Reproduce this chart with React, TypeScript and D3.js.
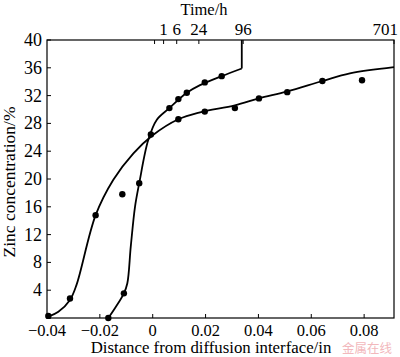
import React from "react";
import * as d3 from "d3";

const W = 400, H = 357;
const M = { left: 47, right: 394, top: 40, bottom: 318 };

const xTicks = [-0.04, -0.02, 0, 0.02, 0.04, 0.06, 0.08];
const yTicks = [0, 4, 8, 12, 16, 20, 24, 28, 32, 36, 40];
const timeTicks = [0, 1, 6, 24, 96, 701];
const timeLabels = ["", "1", "6", "24", "96", "701"];

// 96 h curve (steep)
const curve96: [number, number][] = [
  [-0.0168, 0], [-0.0143, 1.4], [-0.0109, 3.55], [-0.0096, 5], [-0.0083, 10.3],
  [-0.0067, 16], [-0.0051, 19.4], [-0.0017, 25.6], [0.0015, 28.5], [0.0063, 30.2],
  [0.0129, 32.4], [0.0179, 33.5], [0.0261, 34.8], [0.0337, 35.9],
];
const step96: [number, number][] = [[0.0337, 35.9], [0.0337, 40]];

// 701 h curve (broad)
const curve701: [number, number][] = [
  [-0.0395, 0.2], [-0.0357, 0.9], [-0.0313, 2.6], [-0.0288, 4.8], [-0.0216, 14.8],
  [-0.0149, 19.9], [-0.0073, 23.7], [0, 26.3], [0.0097, 28.6], [0.0179, 29.6],
  [0.0311, 30.6], [0.0402, 31.6], [0.0509, 32.6], [0.0642, 34.1], [0.0746, 35.2],
  [0.0913, 36.1],
];

const pts96: [number, number][] = [
  [-0.0168, 0], [-0.0109, 3.55], [-0.0115, 17.8], [-0.0051, 19.4], [-0.0007, 26.4],
  [0.0063, 30.2], [0.0097, 31.5], [0.0129, 32.4], [0.0197, 33.9], [0.0261, 34.8],
];
const pts701: [number, number][] = [
  [-0.0395, 0.3], [-0.0313, 2.8], [-0.0216, 14.8], [0.0097, 28.6], [0.0197, 29.7],
  [0.0311, 30.2], [0.0402, 31.6], [0.0509, 32.5], [0.0642, 34.1], [0.0792, 34.2],
];

const serif = { fontFamily: "'Liberation Serif'" };

export default function App() {
  const x = d3.scaleLinear().domain([-0.04, 0.0913]).range([M.left, M.right]);
  const y = d3.scaleLinear().domain([0, 40]).range([M.bottom, M.top]);
  const t = d3.scaleSqrt().domain([0, 701]).range([x(0.0007), M.right]);
  const smooth = d3.line<[number, number]>().x(d => x(d[0])).y(d => y(d[1])).curve(d3.curveCatmullRom.alpha(0.5));
  const straight = d3.line<[number, number]>().x(d => x(d[0])).y(d => y(d[1]));
  const tl = 4;
  return (
    <svg width={W} height={H} style={{ position: "absolute", left: 0, top: 0, background: "#fff" }}>
      <rect x={M.left} y={M.top} width={M.right - M.left} height={M.bottom - M.top} fill="none" stroke="#000" strokeWidth={1.2} />
      {xTicks.map((v, i) => (
        <g key={"x" + i}>
          <line x1={x(v)} x2={x(v)} y1={M.bottom} y2={M.bottom - tl} stroke="#000" />
          <text x={x(v)} y={335.5} textAnchor="middle" fontSize={16.5} style={serif}>{v < 0 ? "\u2212" + Math.abs(v).toFixed(2) : v === 0 ? "0" : v.toFixed(2)}</text>
        </g>
      ))}
      {yTicks.map((v, i) => (
        <g key={"y" + i}>
          <line x1={M.left} x2={M.left + tl} y1={y(v)} y2={y(v)} stroke="#000" />
          {v > 0 && <text x={42} y={y(v) + 6} textAnchor="end" fontSize={18} style={serif}>{v}</text>}
        </g>
      ))}
      {timeTicks.map((v, i) => (
        <g key={"t" + i}>
          <line x1={t(v)} x2={t(v)} y1={M.top} y2={M.top + tl} stroke="#000" />
          {timeLabels[i] && <text x={i === 5 ? 398 : t(v)} y={35} textAnchor={i === 5 ? "end" : "middle"} fontSize={17} style={serif}>{timeLabels[i]}</text>}
        </g>
      ))}
      <text x={204} y={15} textAnchor="middle" fontSize={16.5} style={serif}>Time/h</text>
      <text x={211} y={352.5} textAnchor="middle" fontSize={16.8} style={serif}>Distance from diffusion interface/in</text>
      <text transform={`translate(15,182) rotate(-90)`} textAnchor="middle" fontSize={17.5} style={serif}>Zinc concentration/%</text>
      <path d={smooth(curve96) || ""} fill="none" stroke="#000" strokeWidth={1.8} />
      <path d={straight(step96) || ""} fill="none" stroke="#000" strokeWidth={1.8} />
      <path d={smooth(curve701) || ""} fill="none" stroke="#000" strokeWidth={1.8} />
      {[...pts96, ...pts701].map((p, i) => (
        <circle key={"p" + i} cx={x(p[0])} cy={y(p[1])} r={3.2} fill="#000" />
      ))}
      <text x={342} y={353} fontSize={12.5} fill="#f2b8bc" style={{ fontFamily: "'Noto Sans CJK SC'" }}>金属在线</text>
    </svg>
  );
}
